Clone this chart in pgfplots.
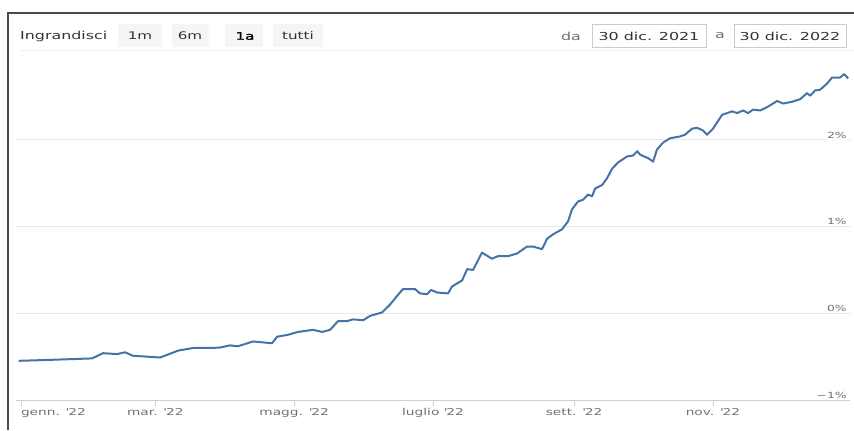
\documentclass[border=0pt]{standalone}
\usepackage{pgfplots}
\pgfplotsset{compat=1.18}
\usepackage{fontspec}
\setmainfont{DejaVu Sans}
% the screenshot is stretched sideways, so the text is too
\newfontfamily\hc[FakeStretch=1.45]{DejaVu Sans}
\newfontfamily\hcb[FakeStretch=1.45,FakeBold=1.5]{DejaVu Sans}

\definecolor{series}{HTML}{4572A7}
\definecolor{gridc}{HTML}{E8E8E8}
\definecolor{axisc}{HTML}{C8D2DE}
\definecolor{labc}{HTML}{707070}
\definecolor{txt}{HTML}{333333}
\definecolor{btn}{HTML}{F5F5F5}
\definecolor{boxc}{HTML}{CCCCCC}
\definecolor{frame}{HTML}{4A4A4A}

% days since 1 Jan 2022, change in %
\pgfplotstableread{
d v
-1 -0.548
12.7 -0.537
31.2 -0.52
36.0 -0.46
42.2 -0.47
45.7 -0.45
49.2 -0.49
55.4 -0.50
61.1 -0.51
64.1 -0.48
69.0 -0.43
75.6 -0.40
83.0 -0.40
87.4 -0.395
91.8 -0.37
95.3 -0.38
101.9 -0.325
110.3 -0.345
112.5 -0.27
116.9 -0.25
121.7 -0.215
128.3 -0.19
132.3 -0.215
135.8 -0.19
139.3 -0.09
143.2 -0.09
145.9 -0.07
150.3 -0.08
153.3 -0.03
158.6 0.01
162.1 0.10
165.2 0.20
167.8 0.28
173.1 0.28
175.3 0.23
178.4 0.22
180.1 0.27
182.8 0.24
187.6 0.23
189.4 0.31
193.8 0.38
196.0 0.51
198.6 0.50
202.5 0.70
206.9 0.63
209.6 0.66
214.0 0.66
217.9 0.69
222.3 0.77
225.0 0.77
228.9 0.74
231.1 0.86
233.7 0.91
237.7 0.97
240.3 1.06
242.1 1.20
244.7 1.29
246.9 1.31
249.1 1.37
250.9 1.35
252.2 1.44
255.3 1.48
257.5 1.56
259.7 1.67
262.3 1.74
266.3 1.81
268.9 1.82
270.7 1.87
272.0 1.83
275.5 1.79
277.7 1.75
279.4 1.89
282.1 1.97
285.2 2.02
289.5 2.04
291.7 2.06
294.8 2.13
297.0 2.14
299.6 2.11
301.4 2.06
304.0 2.13
308.0 2.29
312.4 2.33
314.6 2.31
317.2 2.34
319.4 2.31
321.6 2.35
324.7 2.34
327.9 2.38
332.2 2.45
334.8 2.42
338.7 2.44
342.3 2.47
345.3 2.54
346.7 2.51
348.8 2.57
351.1 2.58
354.1 2.65
356.3 2.72
359.8 2.72
361.6 2.76
363.4 2.71
}\seriesdata

\begin{document}
\begin{tikzpicture}[x=1bp,y=1bp]
\path[use as bounding box] (0,0) rectangle (854,430);

% screenshot frame
\draw[frame, line width=1.3bp] (8,0) -- (8,417) -- (854,417);

% range selector row
\node[anchor=west, text=txt, font=\hc\fontsize{11}{13}\selectfont, inner sep=0pt] at (20,394) {Ingrandisci};
\foreach \cx/\w/\lab in {140/44/1m, 190/37/6m, 298/50/tutti}{
  \fill[btn, rounded corners=1.5bp] (\cx-\w/2,383) rectangle (\cx+\w/2,406);
  \node[text=txt, font=\hc\fontsize{10.5}{12}\selectfont, inner sep=0pt] at (\cx,394) {\lab};
}
\fill[btn, rounded corners=1.5bp] (225,383) rectangle (263,406);
\node[text=black, font=\hcb\fontsize{10.5}{12}\selectfont, inner sep=0pt] at (245,394) {1a};

\node[text=labc, font=\hc\fontsize{11}{13}\selectfont, inner sep=0pt] at (571,394) {da};
\draw[boxc, line width=0.8bp] (592,383) rectangle (706,406);
\node[text=txt, font=\hc\fontsize{11}{13}\selectfont, inner sep=0pt] at (649,394) {30 dic. 2021};
\node[text=labc, font=\hc\fontsize{11}{13}\selectfont, inner sep=0pt] at (720,394) {a};
\draw[boxc, line width=0.8bp] (734,383) rectangle (846,406);
\node[text=txt, font=\hc\fontsize{11}{13}\selectfont, inner sep=0pt] at (790,394) {30 dic. 2022};
\draw[gridc!70!white, line width=0.8bp] (20,380) -- (854,380);

\begin{axis}[
  at={(16bp,30bp)}, anchor=south west,
  scale only axis, width=834bp, height=345bp,
  xmin=-2.2, xmax=364.2, ymin=-1, ymax=2.98,
  axis line style={draw=none},
  xtick={0,59,120,181,243,304},
  xticklabels={{\makebox[0pt][l]{genn. \textquotesingle22}},
    {mar. \textquotesingle22},{magg. \textquotesingle22},
    {luglio \textquotesingle22},{sett. \textquotesingle22},{nov. \textquotesingle22}},
  xtick pos=bottom, tick align=outside, major tick length=6bp,
  xtick style={draw=axisc, line width=0.8bp},
  xticklabel style={text=labc, font=\hc\fontsize{9.5}{11}\selectfont, inner sep=2bp},
  ytick={-1,0,1,2}, yticklabels={}, ytick style={draw=none},
  ymajorgrids, grid style={gridc, line width=1bp},
  clip=false,
]
\draw[axisc, line width=1bp] (rel axis cs:0,0) -- (rel axis cs:1,0);
\addplot[series, line width=2bp, line join=round, no markers] table[x=d, y=v] {\seriesdata};
\foreach \v/\lab in {-1/{−1\%}, 0/{0\%}, 1/{1\%}, 2/{2\%}}{
  \edef\tmp{\noexpand\node[anchor=south east, text=labc, font=\noexpand\hc\noexpand\fontsize{8.5}{10}\noexpand\selectfont, inner sep=1.5bp, fill=white] at (axis cs:363.4,\v) {\unexpanded\expandafter{\lab}};}
  \tmp
}
\end{axis}
\end{tikzpicture}
\end{document}
